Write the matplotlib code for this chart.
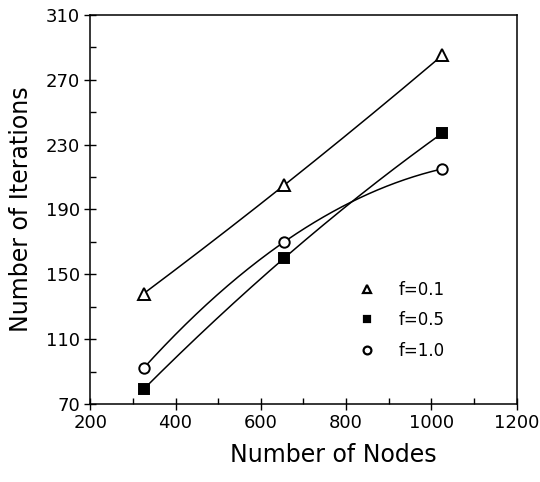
import numpy as np
import matplotlib.pyplot as plt
from matplotlib.lines import Line2D
from matplotlib.ticker import MultipleLocator

plt.rcParams['font.family'] = ['DejaVu Sans']

# данные
nodes = [325, 655, 1025]
iter_f01 = [138, 205, 285]
iter_f05 = [79, 160, 237]
iter_f10 = [92, 170, 215]

series = [
    ('f=0.1', iter_f01, '^', 'white', 8),
    ('f=0.5', iter_f05, 's', 'black', 6.5),
    ('f=1.0', iter_f10, 'o', 'white', 7.5),
]

fig = plt.figure(figsize=(5.4, 4.82), dpi=100)
ax = fig.add_axes([0.167, 0.162, 0.79, 0.807])

handles = []
for label, vals, marker, face, ms in series:
    # гладкая кривая через три точки (парабола)
    coef = np.polyfit(nodes, vals, 2)
    xs = np.linspace(nodes[0], nodes[-1], 200)
    ax.plot(xs, np.polyval(coef, xs), color='black', lw=1.1, zorder=2)
    ax.plot(nodes, vals, linestyle='none', marker=marker, ms=ms,
            mfc=face, mec='black', mew=1.4, zorder=3)
    handles.append(Line2D([], [], linestyle='none', marker=marker, ms=ms * 0.75,
                          mfc=face, mec='black', mew=1.6, label=label))

ax.set_xlim(200, 1200)
ax.set_ylim(70, 310)
ax.xaxis.set_major_locator(MultipleLocator(200))
ax.xaxis.set_minor_locator(MultipleLocator(100))
ax.yaxis.set_major_locator(MultipleLocator(40, offset=30))
ax.yaxis.set_minor_locator(MultipleLocator(20, offset=10))
ax.tick_params(which='major', direction='inout', length=8, width=1, labelsize=13)
ax.tick_params(which='minor', direction='in', length=4, width=1)
for s in ax.spines.values():
    s.set_linewidth(1.1)

ax.set_xlabel('Number of Nodes', fontsize=17)
ax.xaxis.set_label_coords(0.57, -0.1)
ax.set_ylabel('Number of Iterations', fontsize=17, labelpad=9)

ax.legend(handles=handles, frameon=False, loc='lower left',
          bbox_to_anchor=(0.595, 0.075), fontsize=12, handlelength=1.0,
          handletextpad=1.4, labelspacing=0.75)

fig.savefig('out.png')
